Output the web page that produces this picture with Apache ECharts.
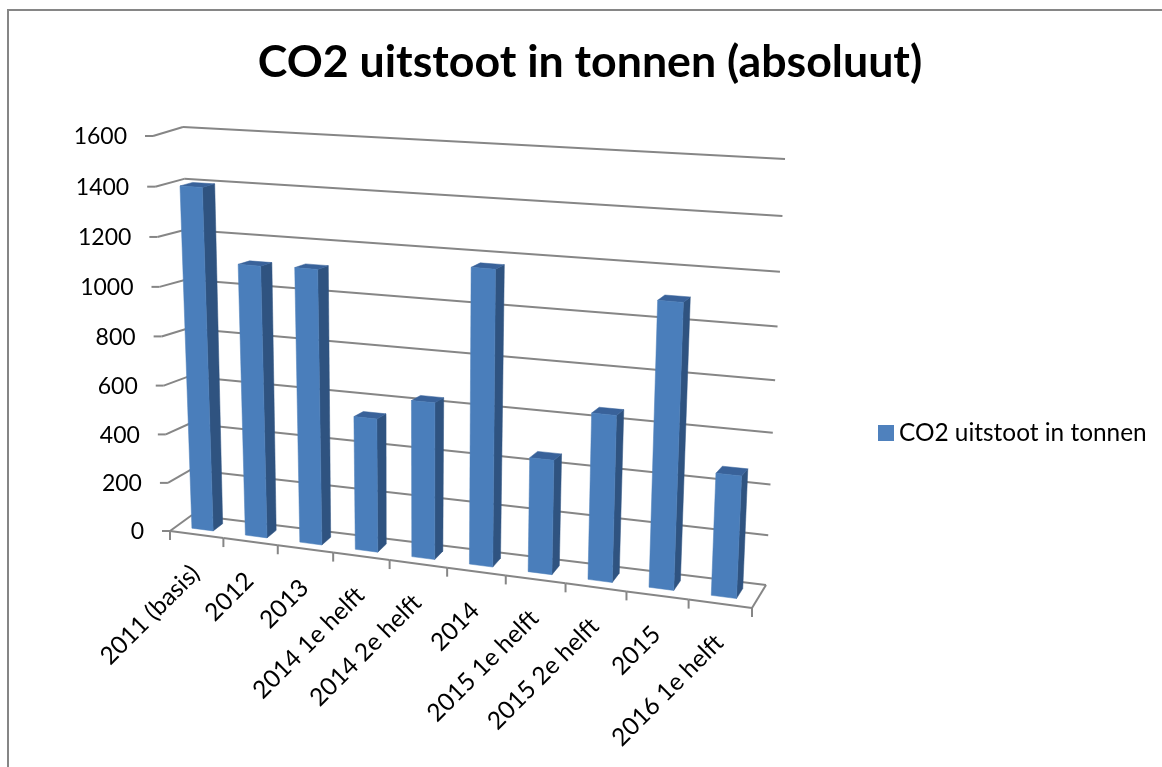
<!DOCTYPE html>
<html>
<head>
<meta charset="utf-8">
<title>CO2 uitstoot in tonnen (absoluut)</title>
<script src="https://cdn.jsdelivr.net/npm/echarts@6/dist/echarts.min.js"></script>
<style>
  html, body { margin: 0; padding: 0; background: #fff; }
  #chart { width: 1162px; height: 767px; }
</style>
</head>
<body>
<div id="chart"></div>
<script>
// data
const categories = ['2011 (basis)', '2012', '2013', '2014 1e helft', '2014 2e helft', '2014', '2015 1e helft', '2015 2e helft', '2015', '2016 1e helft']
const co2Values = [1398, 1105, 1110, 540, 628, 1165, 452, 650, 1097, 470]
const yTicks = [0, 200, 400, 600, 800, 1000, 1200, 1400, 1600]

const seriesName = 'CO2 uitstoot in tonnen'
const fontName = 'Lato'
const gridColor = '#868686'

// corners of the drawn box (perspective view): [x, y]
const box = {
  frontBottomLeft: [170, 531], frontTopLeft: [153, 136],
  frontBottomRight: [752, 608], frontTopRight: [771, 174],
  backBottomLeft: [192, 515], backTopLeft: [183, 127],
  backBottomRight: [766, 585], backTopRight: [785, 159]
}
const uSkew = 1.1

const skew = (t, k) => t / (k - (k - 1) * t)
const mix = (a, b, t) => [a[0] + (b[0] - a[0]) * t, a[1] + (b[1] - a[1]) * t]

// u along the categories, v up the value axis, w from front to back wall
const project = (u, v, w) => {
  const su = skew(u, uSkew)
  const sv = skew(v, 1.03 + 0.05 * w)
  const bottom = mix(mix(box.frontBottomLeft, box.frontBottomRight, su), mix(box.backBottomLeft, box.backBottomRight, su), w)
  const top = mix(mix(box.frontTopLeft, box.frontTopRight, su), mix(box.backTopLeft, box.backTopRight, su), w)
  return mix(bottom, top, sv)
}

// the flat grid gives u and v, the box turns them into a position
const toUV = (params, api, catIndex, value) => {
  const rect = params.coordSys
  const p = api.coord([catIndex, value])
  const band = api.size([1, 0])[0]
  return { u: (p[0] - rect.x) / rect.width, v: (rect.y + rect.height - p[1]) / rect.height, du: band / rect.width }
}

const line = (a, b, width) => ({
  type: 'line',
  shape: { x1: a[0], y1: a[1], x2: b[0], y2: b[1] },
  style: { stroke: gridColor, lineWidth: width || 2 }
})

const face = (points, color) => ({
  type: 'polygon',
  shape: { points },
  style: { fill: color, stroke: color, lineWidth: 0.5 }
})

const renderWall = (params, api) => {
  const { v } = toUV(params, api, 0, api.value(1))
  const front = project(0, v, 0)
  const back = project(0, v, 1)
  return {
    type: 'group',
    children: [
      line(front, back),
      line(back, project(1, v, 1)),
      line([front[0] - 8, front[1]], front),
      {
        type: 'text',
        x: front[0] - 26,
        y: front[1] + 1,
        style: { text: String(api.value(1)), font: '23px ' + fontName, fill: '#000', align: 'right', verticalAlign: 'middle' }
      }
    ]
  }
}

const renderFloor = (params, api) => {
  const i = api.value(0)
  const { u, du } = toUV(params, api, i, 0)
  const left = u - du / 2
  const right = u + du / 2
  const a = project(left, 0, 0)
  const b = project(right, 0, 0)
  const mid = project(u, 0, 0)
  const children = [
    line(a, b),
    line(a, [a[0], a[1] + 9]),
    {
      type: 'text',
      x: mid[0] - 1,
      y: mid[1] + 35,
      rotation: Math.PI / 4,
      style: { text: categories[i], font: '24.5px ' + fontName, fill: '#000', align: 'right', verticalAlign: 'middle' }
    }
  ]
  if (i === categories.length - 1) {
    children.push(line(b, [b[0], b[1] + 9]))
    children.push(line(b, project(1, 0, 1)))
  }
  return { type: 'group', children }
}

const renderBar = (params, api) => {
  const i = api.value(0)
  const { u, v, du } = toUV(params, api, i, api.value(1))
  const l = u - du * 0.21
  const r = u + du * 0.19
  const wFront = 0.3
  const wBack = 0.74
  return {
    type: 'group',
    children: [
      face([project(r, 0, wFront), project(r, 0, wBack), project(r, v, wBack), project(r, v, wFront)], '#2F5380'),
      face([project(l, v, wFront), project(r, v, wFront), project(r, v, wBack), project(l, v, wBack)], '#39629A'),
      face([project(l, 0, wFront), project(r, 0, wFront), project(r, v, wFront), project(l, v, wFront)], '#4A7EBB')
    ]
  }
}

const option = {
  animation: false,
  backgroundColor: '#fff',
  title: {
    text: 'CO2 uitstoot in tonnen (absoluut)',
    left: 585,
    top: 35,
    textAlign: 'center',
    textStyle: { fontFamily: fontName, fontSize: 44.7, fontWeight: 'bold', color: '#000' }
  },
  legend: {
    data: [{ name: seriesName, icon: 'rect' }],
    left: 873,
    top: 416,
    itemWidth: 16,
    itemHeight: 16,
    textStyle: { fontFamily: fontName, fontSize: 24.4, color: '#000' }
  },
  grid: { left: 170, top: 136, width: 582, height: 395 },
  xAxis: { type: 'category', data: categories, show: false },
  yAxis: { type: 'value', min: 0, max: 1600, interval: 200, show: false },
  graphic: [{
    type: 'polyline',
    shape: { points: [[8, 767], [8, 10], [1162, 10]] },
    style: { stroke: gridColor, lineWidth: 2, fill: 'none' },
    silent: true
  }],
  series: [
    {
      type: 'custom',
      name: 'wand',
      renderItem: renderWall,
      data: yTicks.map(t => [0, t]),
      encode: { x: 0, y: 1 },
      clip: false,
      silent: true,
      z: 1
    },
    {
      type: 'custom',
      name: 'vloer',
      renderItem: renderFloor,
      data: categories.map((c, i) => [i, 0]),
      encode: { x: 0, y: 1 },
      clip: false,
      silent: true,
      z: 2
    },
    {
      type: 'custom',
      name: seriesName,
      renderItem: renderBar,
      data: co2Values.map((v, i) => [i, v]),
      encode: { x: 0, y: 1 },
      itemStyle: { color: '#4F81BD' },
      clip: false,
      z: 3
    }
  ]
}

const chart = echarts.init(document.getElementById('chart'))
chart.setOption(option)
</script>
</body>
</html>
